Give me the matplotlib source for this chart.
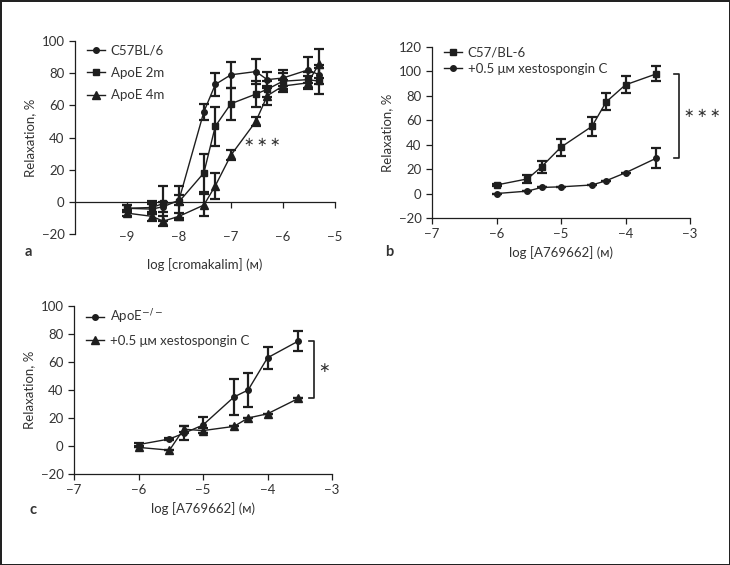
import matplotlib
matplotlib.use("Agg")
import matplotlib.pyplot as plt
from matplotlib.lines import Line2D

plt.rcParams['font.family'] = ['Lato', 'DejaVu Sans']
plt.rcParams['mathtext.fontset'] = 'dejavusans'

INK = "#1e1e1e"
TXT = "#333333"
FS = 9.5

# panel a: cromakalim
conc_a = [-9, -8.52, -8.3, -8, -7.52, -7.3, -7, -6.52, -6.3, -6, -5.52, -5.3]
c57_a = [-4, -4.5, -3, 1, 56, 73, 79, 81, 76, 77, 82, 79]
c57_a_err = [2, 3, 3, 3, 5, 7, 8, 8, 5, 5, 8, 6]
apoe2_a = [-4, -3.5, -1, 0, 18, 47, 61, 67, 70, 75, 76, 75]
apoe2_a_err = [2, 4, 11, 10, 12, 12, 10, 8, 5, 5, 5, 8]
apoe4_a = [-7, -9, -12, -9, -2, 10, 29, 50, 66, 72, 74, 86]
apoe4_a_err = [2, 3, 3, 2, 7, 8, 3, 3, 6, 4, 4, 9]

# panel b: A769662, C57/BL-6
conc_b = [-6, -5.52, -5.3, -5, -4.52, -4.3, -4, -3.52]
c57_b = [7, 12, 22, 38, 55, 75, 89, 98]
c57_b_err = [1, 3, 5, 7, 8, 7, 7, 6]
xesto_b = [0, 2, 5, 5.5, 7, 10.5, 17, 29]
xesto_b_err = [0, 0, 0, 0, 0, 0, 0, 8]

# panel c: A769662, ApoE-/-
conc_c = [-6, -5.52, -5.3, -5, -4.52, -4.3, -4, -3.52]
apoe_c = [1, 5, 9, 15, 35, 40, 63, 75]
apoe_c_err = [1, 1, 5, 6, 13, 12, 8, 7]
xesto_c = [-1, -3, 12, 11, 14, 20, 23, 34]
xesto_c_err = [0, 0, 2, 2, 0, 0, 0, 0]

STARS = "\u2217\u2009\u2217\u2009\u2217"


def series(ax, x, y, err, marker, ms, label):
    ax.errorbar(x, y, yerr=err, color=INK, marker=marker, ms=ms, lw=1.0,
                elinewidth=1.6, capsize=3.6, capthick=1.6)
    # legend shows line + marker only
    return Line2D([], [], color=INK, marker=marker, ms=ms, lw=1.0, label=label)


def style(ax, xlim, ylim, yticks, xticks):
    ax.set_xlim(*xlim)
    ax.set_ylim(*ylim)
    ax.set_yticks(yticks)
    ax.set_xticks(xticks)
    ax.set_yticklabels([str(t).replace('-', '\u2212') for t in yticks])
    ax.set_xticklabels([str(t).replace('-', '\u2212') for t in xticks])
    for s in ['top', 'right']:
        ax.spines[s].set_visible(False)
    for s in ['left', 'bottom']:
        ax.spines[s].set_color(INK)
        ax.spines[s].set_linewidth(0.9)
    ax.tick_params(colors=INK, labelcolor=TXT, labelsize=FS, length=4, width=0.9)
    ax.set_ylabel("Relaxation, %", color=TXT, fontsize=FS, labelpad=4)


def legend(ax, handles, y, spacing):
    ax.legend(handles=handles, loc='upper left', bbox_to_anchor=(0.0, y), frameon=False,
              fontsize=FS, handlelength=1.4, handletextpad=0.4, labelspacing=spacing,
              labelcolor=TXT)


fig = plt.figure(figsize=(7.3, 5.65), dpi=100, edgecolor="#222222", linewidth=2.0)

# ---- a ----
ax = fig.add_axes([0.1027, 0.5858, 0.356, 0.3416])
h = [series(ax, conc_a, c57_a, c57_a_err, 'o', 4.0, "C57BL/6"),
     series(ax, conc_a, apoe2_a, apoe2_a_err, 's', 5.0, "ApoE 2m"),
     series(ax, conc_a, apoe4_a, apoe4_a_err, '^', 5.5, "ApoE 4m")]
style(ax, (-10, -5), (-20, 100), [-20, 0, 20, 40, 60, 80, 100], [-9, -8, -7, -6, -5])
ax.spines['bottom'].set_position(('data', 0))
ax.tick_params(axis='x', pad=17)
ax.set_xlabel("log [cromakalim] (\u1d0d)", color=TXT, fontsize=FS)
ax.xaxis.set_label_coords(0.5, -0.125)
ax.text(-6.4, 37, STARS, family='DejaVu Sans', fontsize=9, color=TXT,
        ha='center', va='center')
legend(ax, h, 1.045, 0.8)
fig.text(25 / 730, 1 - 252 / 565, "a", fontsize=10.5, fontweight='bold', color=TXT,
         ha='left', va='center')

# ---- b ----
ax = fig.add_axes([0.5918, 0.6142, 0.3534, 0.3027])
h = [series(ax, conc_b, c57_b, c57_b_err, 's', 5.0, "C57/BL-6"),
     series(ax, conc_b, xesto_b, xesto_b_err, 'o', 4.0, "+0.5 \u03bc\u1d0d xestospongin C")]
style(ax, (-7, -3), (-20, 120), [-20, 0, 20, 40, 60, 80, 100, 120], [-7, -6, -5, -4, -3])
ax.set_xlabel("log [A769662] (\u1d0d)", color=TXT, fontsize=FS, labelpad=4)
bx = conc_b[-1] + 0.35
ax.plot([bx - 0.08, bx, bx, bx - 0.08], [c57_b[-1], c57_b[-1], xesto_b[-1], xesto_b[-1]],
        color=INK, lw=1.2)
ax.text(bx + 0.08, (c57_b[-1] + xesto_b[-1]) / 2 + 2, STARS, family='DejaVu Sans',
        fontsize=9, color=TXT, ha='left', va='center')
legend(ax, h, 1.07, 0.3)
fig.text(385 / 730, 1 - 252 / 565, "b", fontsize=10.5, fontweight='bold', color=TXT,
         ha='left', va='center')

# ---- c ----
ax = fig.add_axes([0.1014, 0.1611, 0.3534, 0.2973])
h = [series(ax, conc_c, apoe_c, apoe_c_err, 'o', 4.0, "ApoE$^{\u2212/\u2212}$"),
     series(ax, conc_c, xesto_c, xesto_c_err, '^', 5.5, "+0.5 \u03bc\u1d0d xestospongin C")]
style(ax, (-7, -3), (-20, 100), [-20, 0, 20, 40, 60, 80, 100], [-7, -6, -5, -4, -3])
ax.set_xlabel("log [A769662] (\u1d0d)", color=TXT, fontsize=FS, labelpad=4)
bx = conc_c[-1] + 0.24
ax.plot([bx - 0.08, bx, bx, bx - 0.08], [apoe_c[-1], apoe_c[-1], xesto_c[-1], xesto_c[-1]],
        color=INK, lw=1.2)
ax.text(bx + 0.06, (apoe_c[-1] + xesto_c[-1]) / 2 + 1, "\u2217", family='DejaVu Sans',
        fontsize=10, color=TXT, ha='left', va='center')
legend(ax, h, 1.06, 0.65)
fig.text(30 / 730, 1 - 510 / 565, "c", fontsize=10.5, fontweight='bold', color=TXT,
         ha='left', va='center')

fig.savefig("out.png", dpi=100)
